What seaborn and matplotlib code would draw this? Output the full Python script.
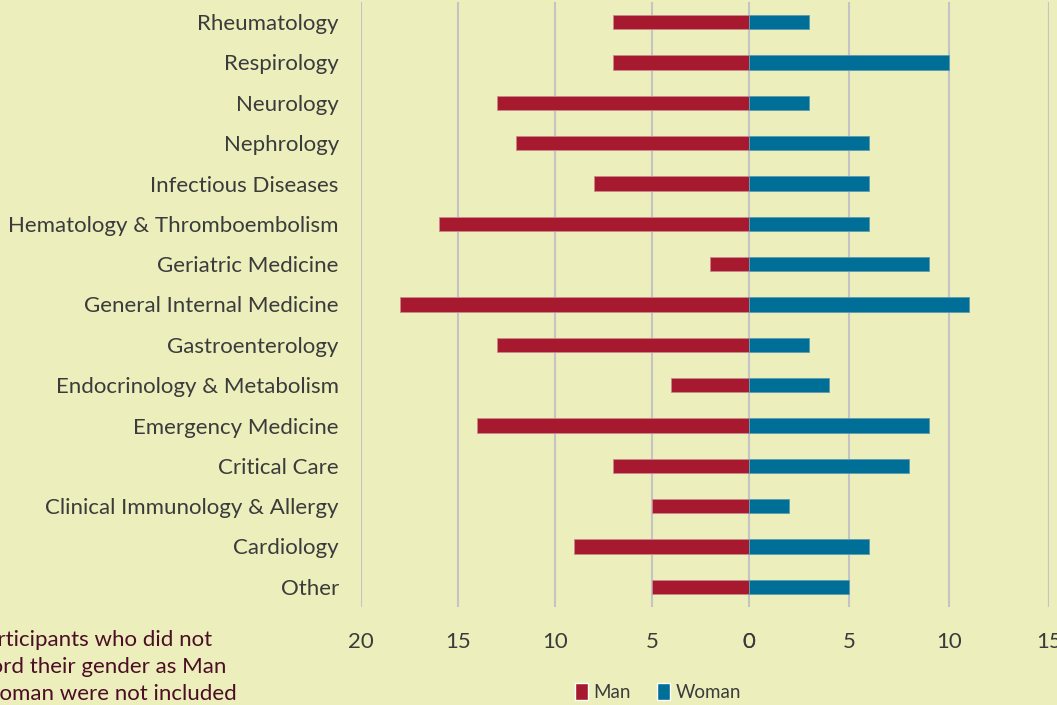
import pandas as pd
import matplotlib
matplotlib.use("Agg")
import matplotlib.pyplot as plt
from matplotlib.patches import Patch
import seaborn as sns

specialties = [
    "Rheumatology",
    "Respirology",
    "Neurology",
    "Nephrology",
    "Infectious Diseases",
    "Hematology & Thromboembolism",
    "Geriatric Medicine",
    "General Internal Medicine",
    "Gastroenterology",
    "Endocrinology & Metabolism",
    "Emergency Medicine",
    "Critical Care",
    "Clinical Immunology & Allergy",
    "Cardiology",
    "Other",
]
man = [7, 7, 13, 12, 8, 16, 2, 18, 13, 4, 14, 7, 5, 9, 5]
woman = [3, 10, 3, 6, 6, 6, 9, 11, 3, 4, 9, 8, 2, 6, 5]
left_ticks = [20, 15, 10, 5, 0]
right_ticks = [0, 5, 10, 15]

BG = "#ECEEBC"
RED = "#A6192E"
BLUE = "#006F98"
TEXT = "#3B3B3B"
GRID = "#C4C4C4"

sns.set_theme(style="white")
plt.rcParams["font.family"] = ["Lato", "DejaVu Sans"]

df = pd.DataFrame({"specialty": specialties, "Man": man, "Woman": woman})

W, H = 1057, 705
fig = plt.figure(figsize=(W / 100, H / 100), dpi=100)
fig.patch.set_facecolor(BG)

bottom = (H - 607) / H
height = 605 / H
ax_l = fig.add_axes([361 / W, bottom, 388 / W, height])
ax_r = fig.add_axes([749 / W, bottom, 300 / W, height])

sns.barplot(data=df, x="Man", y="specialty", color=RED, width=0.35, saturation=1,
            edgecolor="#C98A8E", linewidth=0.6, ax=ax_l, zorder=3)
sns.barplot(data=df, x="Woman", y="specialty", color=BLUE, width=0.35, saturation=1,
            edgecolor="#5E9AAE", linewidth=0.6, ax=ax_r, zorder=3)

ax_l.set_xlim(20, 0)
ax_r.set_xlim(0, 15)
ax_l.set_xticks(left_ticks)
ax_r.set_xticks(right_ticks)

for ax in (ax_l, ax_r):
    ax.set_facecolor(BG)
    ax.set_xlabel("")
    ax.set_ylabel("")
    for s in ax.spines.values():
        s.set_visible(False)
    ax.xaxis.grid(True, color=GRID, linewidth=1.5, zorder=0)
    ax.set_axisbelow(True)
    ax.tick_params(axis="x", colors=TEXT, labelsize=16, length=0, pad=18)
    ax.tick_params(axis="y", length=0)

ax_l.tick_params(axis="y", colors=TEXT, labelsize=16, pad=16)
ax_r.set_yticklabels([])
ax_r.axvline(15, color=GRID, linewidth=1.5, zorder=0)

# legend sits under the zero line, a little to the left
handles = [Patch(facecolor=RED, label="Man"), Patch(facecolor=BLUE, label="Woman")]
leg = fig.legend(handles=handles, loc="center", bbox_to_anchor=(658 / W, (H - 692) / H),
                 ncol=2, frameon=False, fontsize=13.5, handlelength=0.7,
                 handleheight=1.0, handletextpad=0.3, columnspacing=1.4)
for t in leg.get_texts():
    t.set_color(TEXT)

# footnote, cut off by the left edge as in the source
fig.text(93 / W, (H - 667) / H,
         "Participants who did not\nrecord their gender as Man\nor Woman were not included",
         ha="center", va="center", multialignment="center", fontsize=16,
         color="#4B0E24", linespacing=1.45)

fig.savefig("out.png", dpi=100, facecolor=BG)
